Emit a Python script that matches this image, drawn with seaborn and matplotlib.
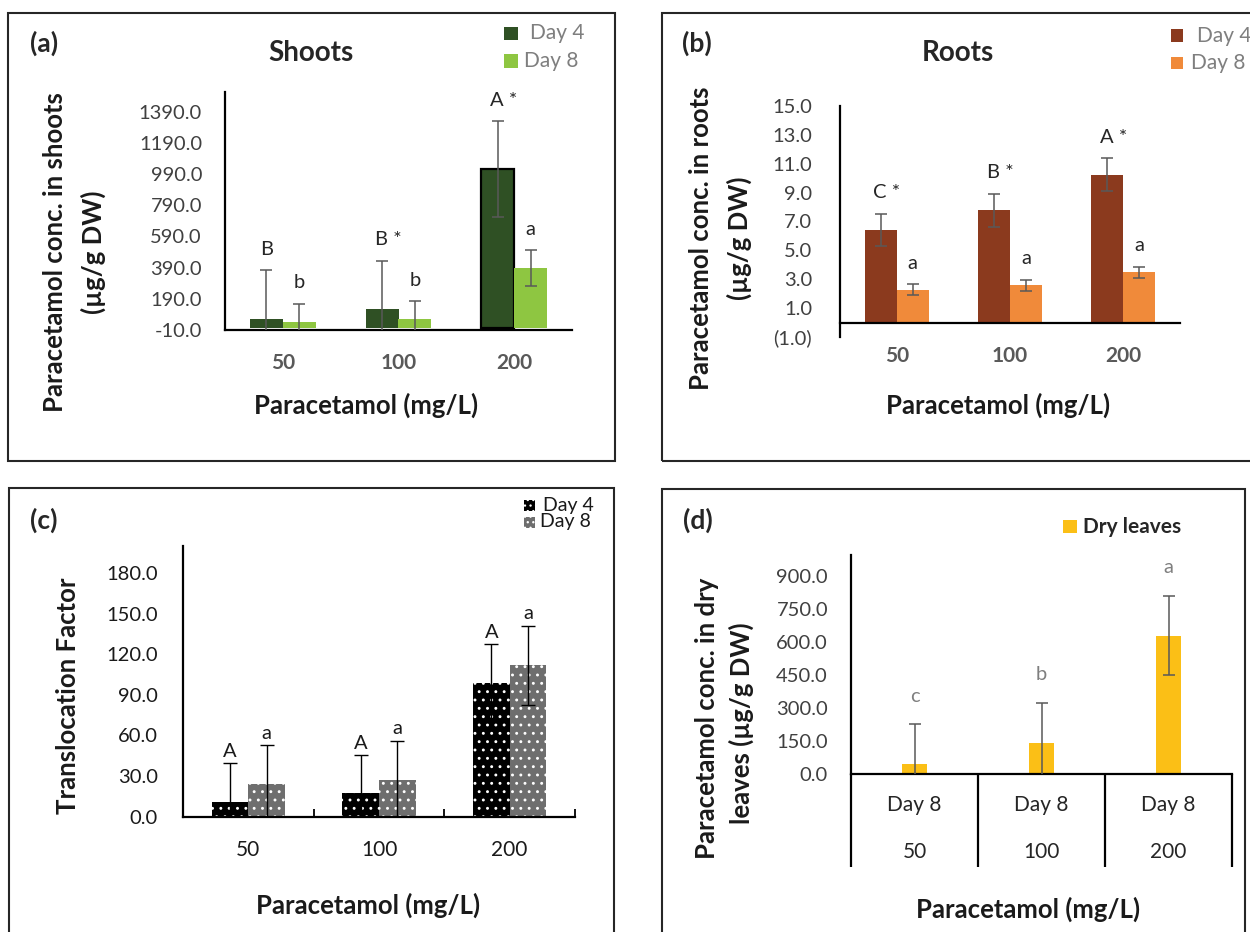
import matplotlib
matplotlib.use("Agg")
import numpy as np
import pandas as pd
import matplotlib.pyplot as plt
import matplotlib.transforms as mtransforms
from matplotlib.patches import Rectangle
from matplotlib.ticker import FuncFormatter
import seaborn as sns

# ---------------- data ----------------
concentrations = ["50", "100", "200"]
days = ["Day 4", "Day 8"]

shoots_day4 = [62, 123, 1020]
shoots_day8 = [41, 60, 387]
shoots_err_day4 = [311, 311, 308]
shoots_err_day8 = [116, 114, 113]
shoots_letters_day4 = ["B", "B *", "A *"]
shoots_letters_day8 = ["b", "b", "a"]
shoots_ticks = [-10, 190, 390, 590, 790, 990, 1190, 1390]

roots_day4 = [6.42, 7.78, 10.25]
roots_day8 = [2.27, 2.57, 3.49]
roots_err_day4 = [1.12, 1.14, 1.14]
roots_err_day8 = [0.37, 0.39, 0.37]
roots_letters_day4 = ["C *", "B *", "A *"]
roots_letters_day8 = ["a", "a", "a"]
roots_ticks = [-1, 1, 3, 5, 7, 9, 11, 13, 15]

tf_day4 = [11.1, 17.3, 98.6]
tf_day8 = [23.9, 27.4, 112.0]
tf_err_day4 = [28.4, 28.1, 28.7]
tf_err_day8 = [28.9, 28.8, 29.2]
tf_letters_day4 = ["A", "A", "A"]
tf_letters_day8 = ["a", "a", "a"]
tf_ticks = [0, 30, 60, 90, 120, 150, 180]

leaves_day8 = [47, 142, 629]
leaves_err = [180, 182, 181]
leaves_letters = ["c", "b", "a"]
leaves_period = ["Day 8", "Day 8", "Day 8"]
leaves_ticks = [0, 150, 300, 450, 600, 750, 900]

# ---------------- style ----------------
sns.set_theme(style="white")
plt.rcParams["font.family"] = ["Lato", "DejaVu Sans"]
plt.rcParams["hatch.linewidth"] = 0.9

W, H = 1250, 932
fig = plt.figure(figsize=(W / 100, H / 100), dpi=100)

TICK = 14.5
XTICK = 15
NOTE = 14.5
LABEL = 18.5
TAG = 19
TITLE = 20


def fx(px):
    return px / W


def fy(py):
    return 1 - py / H


def axes_px(left, top, right, bottom):
    return fig.add_axes([fx(left), fy(bottom), (right - left) / W, (bottom - top) / H])


def pt(px):
    return px * 0.72


def long_frame(d4, d8):
    return pd.DataFrame({
        "conc": concentrations * 2,
        "day": [days[0]] * len(d4) + [days[1]] * len(d8),
        "value": list(d4) + list(d8),
    })


def base_style(ax, ylim, ticks, fmt, ypad, tick_color="#404040"):
    ax.set_xlim(-0.5, 2.5)
    ax.set_ylim(*ylim)
    ax.set_yticks(ticks)
    ax.yaxis.set_major_formatter(fmt)
    for s in ["top", "right"]:
        ax.spines[s].set_visible(False)
    for s in ["left", "bottom"]:
        ax.spines[s].set_visible(True)
        ax.spines[s].set_color("black")
        ax.spines[s].set_linewidth(1.6)
    ax.tick_params(axis="y", length=0, pad=pt(ypad), labelsize=TICK, labelcolor=tick_color)
    ax.set_xlabel("")
    ax.set_ylabel("")
    ax.patch.set_alpha(0)


def add_errors(ax, containers, errs, color, lw, cap):
    for cont, err in zip(containers, errs):
        for bar, e in zip(cont, err):
            xc = bar.get_x() + bar.get_width() / 2
            ax.errorbar(xc, bar.get_height(), yerr=e, fmt="none", ecolor=color,
                        elinewidth=lw, capsize=cap, capthick=lw, zorder=3)


def add_letters(ax, containers, errs, letters, dy_px, color, va="center", size=NOTE):
    for cont, err, labs in zip(containers, errs, letters):
        for bar, e, t in zip(cont, err, labs):
            xc = bar.get_x() + bar.get_width() / 2
            dx = pt(6) if "*" in t else 0
            ax.annotate(t, xy=(xc, bar.get_height() + e), xytext=(dx, pt(dy_px)),
                        textcoords="offset points", ha="center", va=va,
                        fontsize=size, color=color, annotation_clip=False)


def legend_item(x0, y0, x1, y1, face, text, tx, ty, size=15, color="#7f7f7f",
                weight="normal", hatch=None):
    r = Rectangle((fx(x0), fy(y1)), (x1 - x0) / W, (y1 - y0) / H,
                  transform=fig.transFigure, facecolor=face, lw=0,
                  edgecolor="white" if hatch else face, hatch=hatch)
    fig.add_artist(r)
    fig.text(fx(tx), fy(ty), text, ha="left", va="center", fontsize=size,
             color=color, fontweight=weight)


def panel_box(left, top, right, bottom):
    fig.add_artist(Rectangle((fx(left), fy(bottom)), (right - left) / W, (bottom - top) / H,
                             transform=fig.transFigure, fill=False, lw=1.5,
                             edgecolor="#262626", clip_on=False))


one_dec = FuncFormatter(lambda v, p: f"{v:.1f}")
acct = FuncFormatter(lambda v, p: f"({abs(v):.1f})" if v < 0 else f"{v:.1f}")

label_kw = dict(fontsize=LABEL, fontweight="bold", color="#1a1a1a")

# ---------------- (a) Shoots ----------------
panel_box(8, 13, 615, 461)
ax = axes_px(225, 92, 572, 330)
sns.barplot(data=long_frame(shoots_day4, shoots_day8), x="conc", y="value", hue="day",
            order=concentrations, hue_order=days, palette=["#2f5024", "#8ec641"],
            width=0.565, gap=0, errorbar=None, legend=False, saturation=1,
            linewidth=0, ax=ax)
base_style(ax, (-10, 1516), shoots_ticks, one_dec, 23)
ax.containers[0][2].set_edgecolor("black")
ax.containers[0][2].set_linewidth(1.6)
ax.tick_params(axis="x", length=0, pad=pt(23), labelsize=XTICK, labelcolor="#595959")
for lbl in ax.get_xticklabels():
    lbl.set_fontweight("bold")
add_errors(ax, ax.containers[:2], [shoots_err_day4, shoots_err_day8], "#595959", 1.1, 4.2)
add_letters(ax, ax.containers[:2], [shoots_err_day4, shoots_err_day8],
            [shoots_letters_day4, shoots_letters_day8], 21, "#262626")
fig.text(fx(44), fy(43), "(a)", ha="center", va="center", fontsize=TAG, fontweight="bold")
fig.text(fx(311), fy(53), "Shoots", ha="center", va="center", fontsize=TITLE, fontweight="bold")
fig.text(fx(55), fy(252), "Paracetamol conc. in shoots", rotation=90, ha="center", va="center", **label_kw)
fig.text(fx(93), fy(252), "(µg/g DW)", rotation=90, ha="center", va="center", **label_kw)
fig.text(fx(366), fy(405), "Paracetamol (mg/L)", ha="center", va="center", **label_kw)
legend_item(504, 27, 518, 40, "#2f5024", days[0], 530, 33)
legend_item(504, 54, 518, 68, "#8ec641", days[1], 524, 61)

# ---------------- (b) Roots ----------------
panel_box(662, 13, 1255, 461)
ax = axes_px(840, 106, 1180, 337)
sns.barplot(data=long_frame(roots_day4, roots_day8), x="conc", y="value", hue="day",
            order=concentrations, hue_order=days, palette=["#8b3a1e", "#f08a3a"],
            width=0.565, gap=0, errorbar=None, legend=False, saturation=1,
            linewidth=0, ax=ax)
base_style(ax, (-1, 15), roots_ticks, acct, 28)
ax.spines["bottom"].set_position(("data", 0))
ax.tick_params(axis="x", length=0, pad=pt(23), labelsize=XTICK, labelcolor="#595959")
for lbl in ax.get_xticklabels():
    lbl.set_fontweight("bold")
add_errors(ax, ax.containers[:2], [roots_err_day4, roots_err_day8], "#595959", 1.1, 4.2)
add_letters(ax, ax.containers[:2], [roots_err_day4, roots_err_day8],
            [roots_letters_day4, roots_letters_day8], 21, "#262626")
fig.text(fx(697), fy(43), "(b)", ha="center", va="center", fontsize=TAG, fontweight="bold")
fig.text(fx(958), fy(53), "Roots", ha="center", va="center", fontsize=TITLE, fontweight="bold")
fig.text(fx(701), fy(238), "Paracetamol conc. in roots", rotation=90, ha="center", va="center", **label_kw)
fig.text(fx(739), fy(238), "(µg/g DW)", rotation=90, ha="center", va="center", **label_kw)
fig.text(fx(998), fy(405), "Paracetamol (mg/L)", ha="center", va="center", **label_kw)
legend_item(1171, 29, 1183, 42, "#8b3a1e", days[0], 1197, 36)
legend_item(1171, 57, 1183, 69, "#f08a3a", days[1], 1191, 63)

# ---------------- (c) Translocation factor ----------------
panel_box(9, 488, 614, 945)
ax = axes_px(183, 546, 575, 816.7)
sns.barplot(data=long_frame(tf_day4, tf_day8), x="conc", y="value", hue="day",
            order=concentrations, hue_order=days, palette=["#000000", "#6e6e6e"],
            width=0.56, gap=0, errorbar=None, legend=False, saturation=1,
            linewidth=0, ax=ax)
base_style(ax, (0, 200), tf_ticks, one_dec, 25, tick_color="#1a1a1a")
for cont in ax.containers[:2]:
    for bar in cont:
        bar.set_hatch("..")
        bar.set_edgecolor("white")
        bar.set_linewidth(0)
ax.set_xticks(np.arange(len(concentrations) + 1)[1:] - 0.5, minor=True)
ax.tick_params(axis="x", which="major", length=0, pad=pt(23), labelsize=XTICK, labelcolor="#1a1a1a")
ax.tick_params(axis="x", which="minor", bottom=True, direction="in", length=6, width=1.3, color="black")
add_errors(ax, ax.containers[:2], [tf_err_day4, tf_err_day8], "black", 1.0, 4.7)
add_letters(ax, ax.containers[:2], [tf_err_day4, tf_err_day8],
            [tf_letters_day4, tf_letters_day8], 12, "#1a1a1a")
fig.text(fx(44), fy(520), "(c)", ha="center", va="center", fontsize=TAG, fontweight="bold")
fig.text(fx(68), fy(696), "Translocation Factor", rotation=90, ha="center", va="center", **label_kw)
fig.text(fx(368), fy(905), "Paracetamol (mg/L)", ha="center", va="center", **label_kw)
legend_item(524, 500, 535, 511, "#000000", days[0], 543, 505, size=14, color="#1a1a1a", hatch="...")
legend_item(524, 517, 535, 528, "#6e6e6e", days[1], 540, 521.5, size=14, color="#1a1a1a", hatch="...")

# ---------------- (d) Dry leaves ----------------
panel_box(662, 489, 1245, 945)
ax = axes_px(851, 555, 1232, 774)
leaves_df = pd.DataFrame({"conc": concentrations, "value": leaves_day8})
sns.barplot(data=leaves_df, x="conc", y="value", order=concentrations, color="#fbbf16",
            width=0.19, errorbar=None, saturation=1, linewidth=0, ax=ax)
base_style(ax, (0, 995), leaves_ticks, one_dec, 23)
ax.tick_params(axis="x", length=0, labelbottom=False)
add_errors(ax, ax.containers[:1], [leaves_err], "#595959", 1.1, 4.2)
add_letters(ax, ax.containers[:1], [leaves_err], [leaves_letters], 28, "#7f7f7f")
blend = mtransforms.blended_transform_factory(ax.transData, ax.transAxes)
for xb in np.arange(len(concentrations) + 1) - 0.5:
    ax.plot([xb, xb], [0, -92.7 / 219], transform=blend, color="black", lw=1.6,
            clip_on=False, solid_capstyle="butt")
for i, (per, conc) in enumerate(zip(leaves_period, concentrations)):
    ax.text(i, -31 / 219, per, transform=blend, ha="center", va="center", fontsize=XTICK, color="#262626")
    ax.text(i, -77.7 / 219, conc, transform=blend, ha="center", va="center", fontsize=XTICK, color="#262626")
fig.text(fx(698), fy(520), "(d)", ha="center", va="center", fontsize=TAG, fontweight="bold")
fig.text(fx(707), fy(718), "Paracetamol conc. in dry", rotation=90, ha="center", va="center", **label_kw)
fig.text(fx(741), fy(723), "leaves (µg/g DW)", rotation=90, ha="center", va="center", **label_kw)
fig.text(fx(1028), fy(909), "Paracetamol (mg/L)", ha="center", va="center", **label_kw)
legend_item(1063, 520, 1077, 533, "#fbbf16", "Dry leaves", 1083, 527, size=15,
            color="#262626", weight="bold")

fig.savefig("out.png", dpi=100)
